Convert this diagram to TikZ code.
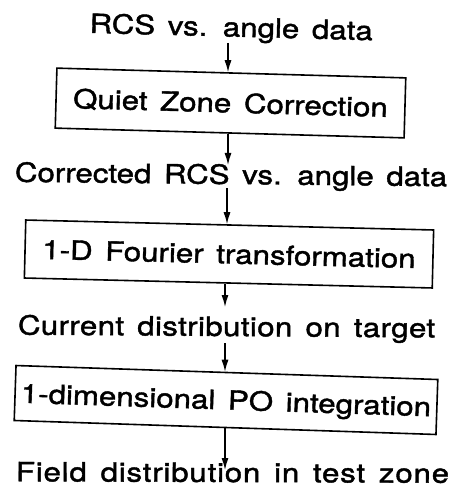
\documentclass[tikz,border=0pt]{standalone}
\usepackage{fontspec}
\setmainfont{TeX Gyre Heros}[FakeStretch=1.18, WordSpace=1.45, FakeBold=1.5]
\usetikzlibrary{arrows.meta}
\begin{document}
\begin{tikzpicture}[x=1pt,y=-1pt,
  lbl/.style={inner sep=0pt, font=\fontsize{26.5}{30}\selectfont},
  procbox/.style={draw, line width=1.6pt, inner sep=0pt, text height=19pt, text depth=0pt,
    font=\fontsize{26.5}{30}\selectfont},
  arr/.style={line width=1.3pt, -{Latex[length=12pt,width=7pt]}}]
\fill[white] (0,0) rectangle (449,497);
\useasboundingbox (0,0) rectangle (449,497);
% free labels
\node[lbl, rotate=-1.5, anchor=base] (t1) at (231,36.5) {RCS vs. angle data};
\node[lbl, rotate=-0.6, anchor=base] (t2) at (231,184) {Corrected RCS vs. angle data};
\node[lbl, rotate=-0.4, anchor=base] (t3) at (226.5,336) {\addfontfeatures{LetterSpace=1.4}Current distribution on target};
\node[lbl, rotate=-0.2, anchor=base] (t4) at (232.5,482) {\addfontfeatures{LetterSpace=3}Field distribution in test zone};
% boxes
\node[procbox, rotate=-1.6, minimum width=349pt, minimum height=60pt] (b1) at (230.5,103) {Quiet Zone Correction};
\node[procbox, rotate=-1.4, minimum width=408pt, minimum height=58pt] (b2) at (229,254) {1-D Fourier transformation};
\node[procbox, rotate=-1.9, minimum width=422pt, minimum height=55pt] (b3) at (226,400) {1-dimensional PO integration};
% connectors
\coordinate (e1) at (228,165);
\coordinate (e2) at (225,307);
\coordinate (e3) at (225,470);
\draw[arr] (228,43) -- (b1.north -| 228,0);
\draw[arr] (b1.south -| e1) -- (e1);
\draw[arr] (227,188) -- (b2.north -| 227,0);
\draw[arr] (b2.south -| e2) -- (e2);
\draw[arr] (225,343) -- (b3.north -| 225,0);
\draw[arr] (b3.south -| e3) -- (e3);
\end{tikzpicture}
\end{document}
